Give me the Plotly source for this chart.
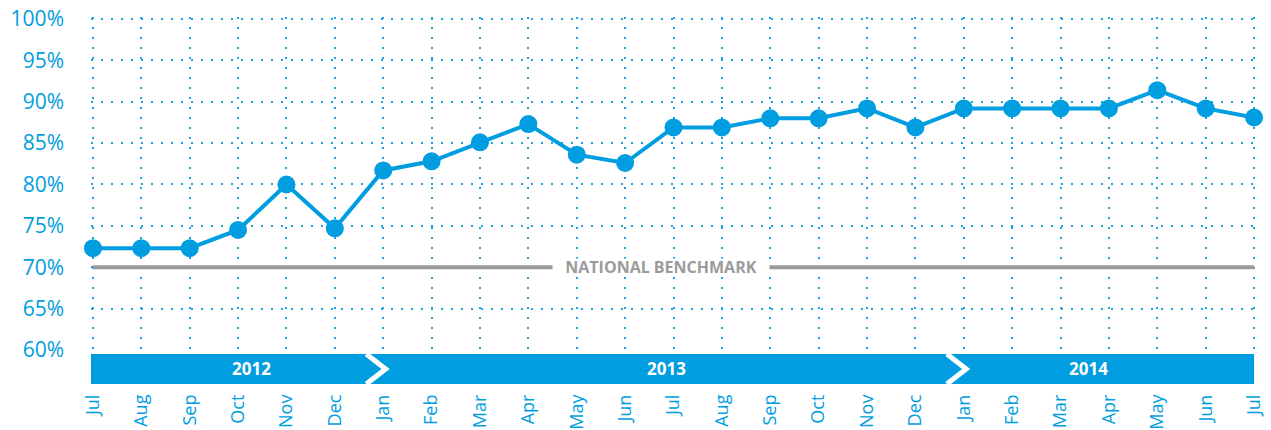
import plotly.graph_objects as go

months = ["Jul", "Aug", "Sep", "Oct", "Nov", "Dec", "Jan", "Feb", "Mar", "Apr", "May", "Jun",
          "Jul", "Aug", "Sep", "Oct", "Nov", "Dec", "Jan", "Feb", "Mar", "Apr", "May", "Jun", "Jul"]
values = [72.3, 72.3, 72.3, 74.5, 80.0, 74.7, 81.7, 82.8, 85.1, 87.3, 83.6, 82.6,
          86.9, 86.9, 88.0, 88.0, 89.2, 86.9, 89.2, 89.2, 89.2, 89.2, 91.4, 89.2, 88.1]
benchmark = 70
benchmark_label = "NATIONAL BENCHMARK"
years = ["2012", "2013", "2014"]
year_start = [0, 6, 18]
y_ticks = [60, 65, 70, 75, 80, 85, 90, 95, 100]

BLUE = "#009ee0"
GRID = "#1a9fe0"
GRAY = "#9b9b9b"
FONT = "Open Sans"

x = list(range(len(months)))
n = len(months) - 1
xr = [-0.04, n + 0.04]
yr_ = [59.99, 100.25]


def px(i):
    return (i - xr[0]) / (xr[1] - xr[0])


fig = go.Figure()
fig.add_trace(go.Scatter(x=[x[0], x[-1]], y=[benchmark, benchmark], mode="lines",
                         line=dict(color=GRAY, width=4), hoverinfo="skip", cliponaxis=False))
fig.add_trace(go.Scatter(x=x, y=values, mode="lines+markers",
                         line=dict(color=BLUE, width=4),
                         marker=dict(color=BLUE, size=18),
                         cliponaxis=False))

# year band (below plot area, in paper coords)
top, bot = -0.012, -0.1021
mid = (top + bot) / 2
fig.add_shape(type="rect", xref="paper", yref="paper", x0=px(-0.04), x1=px(n), y0=bot, y1=top,
              fillcolor=BLUE, line=dict(width=0))
for s in year_start[1:]:
    fig.add_shape(type="path", xref="paper", yref="paper",
                  path=f"M {px(s - 0.35)} {top} L {px(s + 0.05)} {mid} L {px(s - 0.35)} {bot}",
                  line=dict(color="white", width=5))
ends = [s - 0.35 for s in year_start[1:]] + [n]
starts = [0] + [s + 0.05 for s in year_start[1:]]
for yr, a, b in zip(years, starts, ends):
    fig.add_annotation(x=px((a + b) / 2), y=mid, xref="paper", yref="paper", text=f"<b>{yr}</b>",
                       showarrow=False, yanchor="middle",
                       font=dict(family=FONT, size=17, color="white"))

fig.add_annotation(x=11.75, y=benchmark, text=f"<b>{benchmark_label}</b>", showarrow=False,
                   font=dict(family=FONT, size=16, color=GRAY), bgcolor="white", borderpad=0,
                   width=216, height=16)

fig.update_layout(
    width=1271, height=430,
    margin=dict(l=91, r=15, t=17, b=80, autoexpand=False),
    plot_bgcolor="white", paper_bgcolor="white",
    showlegend=False,
    xaxis=dict(range=xr, tickvals=x, ticktext=months, tickangle=-90,
               showgrid=True, gridcolor=GRID, gridwidth=2, griddash="2px,8px",
               zeroline=False, showline=False, ticks="", automargin=False,
               ticklabeloverflow="allow",
               tickfont=dict(family=FONT, size=18, color=BLUE), ticklabelstandoff=40),
    yaxis=dict(range=yr_, tickvals=y_ticks, ticktext=[f"{v}%" for v in y_ticks],
               showgrid=True, gridcolor=GRID, gridwidth=2, griddash="2px,8px",
               zeroline=False, showline=False, ticks="", automargin=False,
               ticklabeloverflow="allow",
               tickfont=dict(family=FONT, size=21, color=BLUE), ticklabelstandoff=26),
)

fig.write_html("out.html", config={"displayModeBar": False},
               post_script="document.body.style.margin='0';")
